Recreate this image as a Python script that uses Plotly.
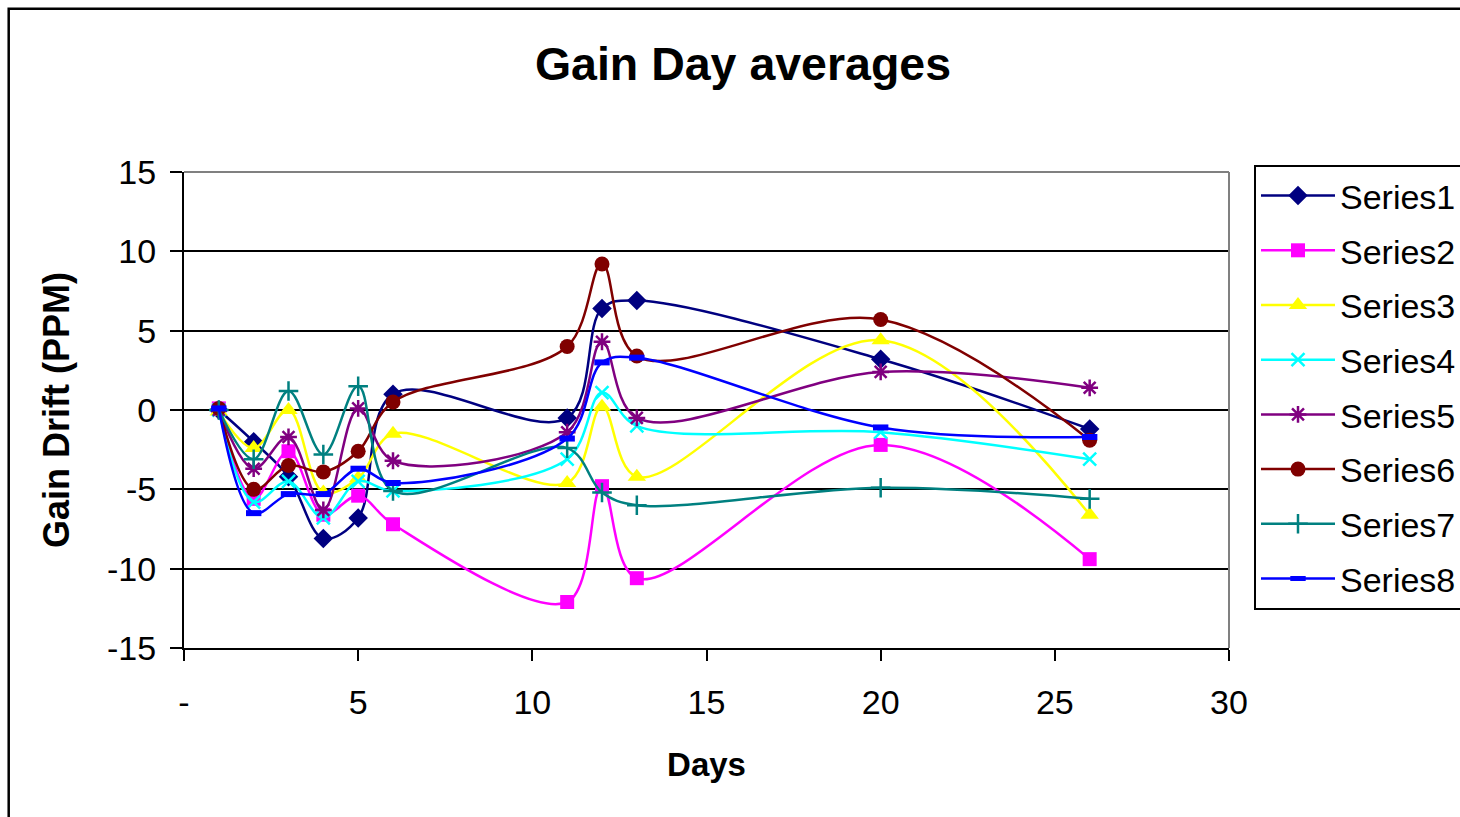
import plotly.graph_objects as go

days = [1, 2, 3, 4, 5, 6, 11, 12, 13, 20, 26]
series1 = [0.0, -2.0, -4.2, -8.1, -6.8, 1.0, -0.5, 6.4, 6.9, 3.2, -1.2]
series2 = [0.1, -5.6, -2.6, -6.6, -5.4, -7.2, -12.1, -4.8, -10.6, -2.2, -9.4]
series3 = [-0.1, -2.4, 0.0, -5.2, -4.3, -1.5, -4.6, 0.2, -4.2, 4.4, -6.6]
series4 = [0.0, -5.8, -4.5, -6.8, -4.5, -5.1, -3.1, 1.1, -1.0, -1.4, -3.1]
series5 = [0.0, -3.7, -1.7, -6.3, 0.1, -3.2, -1.4, 4.3, -0.5, 2.4, 1.4]
series6 = [0.1, -5.0, -3.5, -3.9, -2.6, 0.5, 4.0, 9.2, 3.4, 5.7, -1.9]
series7 = [0.0, -3.1, 1.2, -2.8, 1.5, -5.1, -2.4, -5.2, -6.0, -4.9, -5.6]
series8 = [0.1, -6.5, -5.3, -5.3, -3.7, -4.6, -1.8, 3.0, 3.3, -1.1, -1.7]

names = ["Series1", "Series2", "Series3", "Series4", "Series5", "Series6", "Series7", "Series8"]
values = [series1, series2, series3, series4, series5, series6, series7, series8]
colors = ["#000080", "#FF00FF", "#FFFF00", "#00FFFF", "#800080", "#800000", "#008080", "#0000FF"]
symbols = ["diamond", "square", "triangle-up", "x-thin-open", "asterisk-open", "circle", "cross-thin-open", "line-ew"]
sizes = [15, 14, 16, 13, 14, 15, 14, 11]

x_tickvals = [0, 5, 10, 15, 20, 25, 30]
x_ticktext = ["-", "5", "10", "15", "20", "25", "30"]
y_tickvals = [-15, -10, -5, 0, 5, 10, 15]
y_ticktext = ["-15", "-10", "-5", "0", "5", "10", "15"]

FONT = "Liberation Sans, Arial, sans-serif"

fig = go.Figure()
for nm, vals, col, sym, sz in zip(names, values, colors, symbols, sizes):
    open_sym = sym.endswith("open") or sym == "line-ew"
    marker = dict(symbol=sym, size=sz, color=col)
    if open_sym:
        marker["line"] = dict(color=col, width=6 if sym == "line-ew" else 2.5)
    else:
        marker["line"] = dict(width=0)
    fig.add_trace(go.Scatter(
        x=days, y=vals, name=nm, mode="lines+markers",
        line=dict(color=col, width=2.5, shape="spline", smoothing=1.0),
        marker=marker, legendgroup=nm,
    ))

L, T, PW, PH = 184, 172, 1045, 476
W, H = 1460, 817

def px_x(p):
    return (p - L) / PW

def px_y(p):
    return (T + PH - p) / PH

fig.update_layout(
    width=W, height=H,
    margin=dict(l=L, r=W - L - PW, t=T, b=H - T - PH, autoexpand=False),
    paper_bgcolor="white", plot_bgcolor="white",
    font=dict(family=FONT, color="black", size=34),
    title=dict(text="<b>Gain Day averages</b>", x=743 / W, xref="container", xanchor="center",
               y=1 - 64 / H, yref="container", yanchor="middle",
               font=dict(size=46.5, family=FONT, color="black")),
    showlegend=True,
    legend=dict(x=px_x(1254), y=px_y((166 + 605) / 2 + 2), xanchor="left", yanchor="middle",
                bordercolor="black", borderwidth=2, bgcolor="white",
                font=dict(size=34, family=FONT, color="black"),
                traceorder="grouped", tracegroupgap=7.5, itemwidth=74),
    xaxis=dict(range=[0, 30], tickvals=x_tickvals, ticktext=x_ticktext,
               ticks="outside", ticklen=11, tickwidth=2, tickcolor="black",
               showline=True, linecolor="black", linewidth=2, showgrid=False, zeroline=False,
               tickfont=dict(size=34, family=FONT), automargin=False, ticklabelstandoff=12,
               title=dict(text="<b>Days</b>", font=dict(size=33, family=FONT), standoff=33)),
    yaxis=dict(range=[-15, 15], tickvals=y_tickvals, ticktext=y_ticktext,
               ticks="outside", ticklen=12, tickwidth=2, tickcolor="black",
               showline=True, linecolor="black", linewidth=2,
               showgrid=True, gridcolor="black", gridwidth=2, zeroline=False,
               tickfont=dict(size=34, family=FONT), automargin=False, ticklabelstandoff=7,
               title=dict(text="<b>Gain Drift (PPM)</b>", font=dict(size=36, family=FONT), standoff=26)),
    shapes=[
        dict(type="line", xref="paper", yref="paper", x0=0, x1=1, y0=1, y1=1,
             line=dict(color="#808080", width=2)),
        dict(type="line", xref="paper", yref="paper", x0=1, x1=1, y0=0, y1=1,
             line=dict(color="#808080", width=2)),
        dict(type="rect", xref="paper", yref="paper", x0=px_x(8.7), x1=px_x(1490),
             y0=px_y(840), y1=px_y(8.7), line=dict(color="black", width=2.5),
             fillcolor="rgba(0,0,0,0)", layer="below"),
    ],
)

fig.write_html("out.html")
